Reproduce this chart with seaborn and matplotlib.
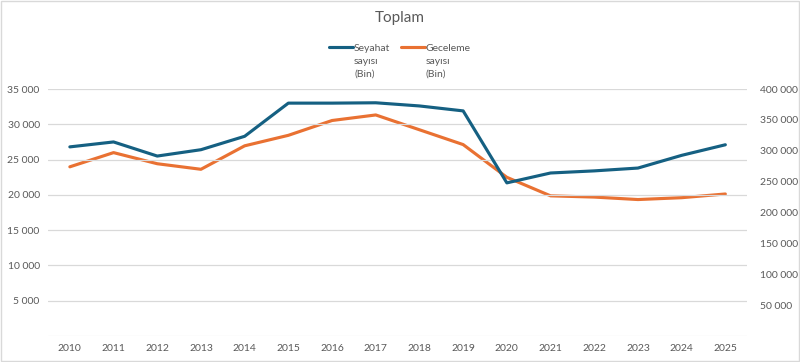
import numpy as np
import pandas as pd
import matplotlib
matplotlib.use('Agg')
import matplotlib.pyplot as plt
import matplotlib.ticker as mticker
import seaborn as sns

# values
years = [2010, 2011, 2012, 2013, 2014, 2015, 2016, 2017,
         2018, 2019, 2020, 2021, 2022, 2023, 2024, 2025]
seyahat = [26800, 27500, 25500, 26400, 28300, 33000, 33000, 33050,
           32600, 31900, 21700, 23100, 23400, 23800, 25600, 27100]
geceleme = [274000, 297000, 279000, 270000, 308000, 325000, 349000, 358000,
            334000, 310000, 257000, 227000, 225000, 221000, 224000, 230000]
left_ticks = [5000, 10000, 15000, 20000, 25000, 30000, 35000]
right_ticks = [50000, 100000, 150000, 200000, 250000, 300000, 350000, 400000]

BLUE = '#156082'
ORANGE = '#E97132'
GRID = '#D9D9D9'
TXT = '#595959'

sns.set_theme(style='white')
plt.rcParams['font.family'] = ['Lato', 'DejaVu Sans']

df = pd.DataFrame({'yil': years, 'seyahat': seyahat, 'geceleme': geceleme})

fig = plt.figure(figsize=(8, 3.62), dpi=100)
ax = fig.add_axes([0.06, 0.0718, 0.874, 0.6823])
ax2 = ax.twinx()

sns.lineplot(data=df, x='yil', y='seyahat', ax=ax, color=BLUE, linewidth=2.25,
             label='Seyahat\nsayısı\n(Bin)', legend=False)
sns.lineplot(data=df, x='yil', y='geceleme', ax=ax2, color=ORANGE, linewidth=2.25,
             label='Geceleme\nsayısı\n(Bin)', legend=False)

ax.set_xlim(2009.5, 2025.5)
ax.set_ylim(0, 35000)
ax2.set_ylim(0, 400000)
ax.set_xticks(years)
ax.set_yticks(left_ticks)
ax2.set_yticks(right_ticks)

fmt = mticker.FuncFormatter(lambda v, p: f'{int(v):,}'.replace(',', ' '))
ax.yaxis.set_major_formatter(fmt)
ax2.yaxis.set_major_formatter(fmt)

for a in (ax, ax2):
    for s in a.spines.values():
        s.set_visible(False)
    a.set_xlabel('')
    a.set_ylabel('')
    a.tick_params(length=0, labelsize=7.5, colors=TXT)

ax.tick_params(axis='y', pad=6)
ax2.tick_params(axis='y', pad=9)
ax.tick_params(axis='x', pad=6)

ax.grid(axis='y', color=GRID, linewidth=0.8)
for y in [0] + left_ticks:
    ax.axhline(y, color=GRID, linewidth=0.8, zorder=0)
ax.set_zorder(ax2.get_zorder() + 1)
ax.patch.set_visible(False)

fig.text(0.5, 0.95, 'Toplam', ha='center', va='center', fontsize=11, color=TXT)

h1, l1 = ax.get_legend_handles_labels()
h2, l2 = ax2.get_legend_handles_labels()
leg = fig.legend(h1 + h2, l1 + l2, loc='upper center', bbox_to_anchor=(0.5, 0.905),
                 ncol=2, frameon=False, fontsize=7.5, labelcolor=TXT,
                 handlelength=2.3, handletextpad=0.1, columnspacing=1.0)
for t in leg.get_texts():
    t.set_linespacing(1.55)
# put the line handle next to the first text line, as in the reference
for col in leg._legend_handle_box.get_children():
    for item in col.get_children():
        item.align = 'top'

fig.patches.append(plt.Rectangle((0.001, 0.002), 0.998, 0.996, transform=fig.transFigure,
                                 fill=False, edgecolor=GRID, linewidth=1))

fig.savefig('out.png', dpi=100)
